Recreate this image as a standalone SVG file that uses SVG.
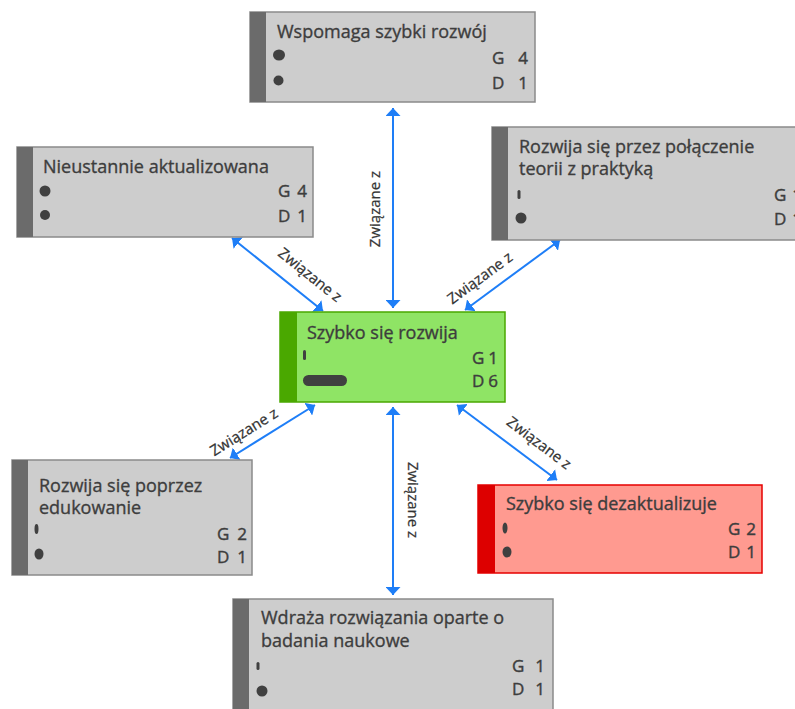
<svg xmlns="http://www.w3.org/2000/svg" width="795" height="709" viewBox="0 0 795 709">
  <style>
    .box { stroke-width: 1.5; }
    .gray .box { fill: #cdcdcd; stroke: #8a8a8a; }
    .gray .bar { fill: #6b6b6b; }
    .green .box { fill: #8fe465; stroke: #4aa800; }
    .green .bar { fill: #4aa800; }
    .red .box { fill: #ff9a90; stroke: #e60000; }
    .red .bar { fill: #dd0000; }
    .title { font-family: "Open Sans", "Noto Sans", sans-serif; font-size: 18px; fill: #3d3d3d; stroke: #3d3d3d; stroke-width: 0.35; }
    .val { font-family: "Open Sans", "Noto Sans", sans-serif; font-size: 17px; fill: #3d3d3d; stroke: #3d3d3d; stroke-width: 0.4; }
    .ind { fill: #404040; }
    .link { stroke: #1e7ef7; stroke-width: 2; fill: none; marker-start: url(#head); marker-end: url(#head); }
    .lbl { font-family: "Open Sans", "Noto Sans", sans-serif; font-size: 15px; fill: #333333; stroke: #333333; stroke-width: 0.25; text-anchor: middle; }
  </style>
  <defs>
    <marker id="head" markerUnits="userSpaceOnUse" viewBox="0 0 8 15" markerWidth="8" markerHeight="15" refX="8" refY="7.5" orient="auto-start-reverse">
      <path d="M0,0 L8,7.5 L0,15 z" fill="#1e7ef7"/>
    </marker>
  </defs>

  <rect width="795" height="709" fill="#ffffff"/>

  <!-- connectors -->
  <g id="connectors">
    <line class="link" x1="393" y1="108" x2="393" y2="308"/>
    <line class="link" x1="232" y1="238" x2="323" y2="311"/>
    <line class="link" x1="560" y1="240" x2="465" y2="310"/>
    <line class="link" x1="315" y1="405" x2="230" y2="458"/>
    <line class="link" x1="393" y1="407" x2="393" y2="595"/>
    <line class="link" x1="457" y1="405" x2="557" y2="480"/>
    <text class="lbl" transform="translate(374.5,209) rotate(-90)" dy="5">Związane z</text>
    <text class="lbl" transform="translate(310,275) rotate(38.7)" dy="5">Związane z</text>
    <text class="lbl" transform="translate(480,278) rotate(-36.4)" dy="5">Związane z</text>
    <text class="lbl" transform="translate(244,432) rotate(-32)" dy="5">Związane z</text>
    <text class="lbl" transform="translate(412.5,500) rotate(90)" dy="5">Związane z</text>
    <text class="lbl" transform="translate(539,443) rotate(37)" dy="5">Związane z</text>
  </g>

  <!-- top node -->
  <g id="node-wspomaga" class="gray">
    <rect class="box" x="250" y="12" width="285" height="90"/>
    <rect class="bar" x="250" y="12" width="16" height="90"/>
    <text class="title" x="277" y="38">Wspomaga szybki rozwój</text>
    <ellipse class="ind" cx="279" cy="55" rx="6" ry="5.5"/>
    <ellipse class="ind" cx="278.5" cy="80.5" rx="5" ry="5"/>
    <text class="val" x="492" y="64">G</text>
    <text class="val" x="528" y="64" text-anchor="end">4</text>
    <text class="val" x="492" y="89">D</text>
    <text class="val" x="528" y="89" text-anchor="end">1</text>
  </g>

  <g id="node-nieustannie" class="gray">
    <rect class="box" x="17" y="147" width="296" height="90"/>
    <rect class="bar" x="17" y="147" width="16" height="90"/>
    <text class="title" x="43" y="173">Nieustannie aktualizowana</text>
    <ellipse class="ind" cx="45" cy="191" rx="5.5" ry="5.5"/>
    <ellipse class="ind" cx="45" cy="215" rx="5" ry="5"/>
    <text class="val" x="278" y="197">G</text>
    <text class="val" x="307" y="197" text-anchor="end">4</text>
    <text class="val" x="278" y="222">D</text>
    <text class="val" x="307" y="222" text-anchor="end">1</text>
  </g>

  <g id="node-teoria" class="gray">
    <rect class="box" x="492" y="127" width="320" height="113"/>
    <rect class="bar" x="492" y="127" width="16" height="113"/>
    <text class="title" x="519" y="153">Rozwija się przez połączenie</text>
    <text class="title" x="519" y="175">teorii z praktyką</text>
    <rect class="ind" x="517.5" y="190" width="3" height="9" rx="1.5"/>
    <ellipse class="ind" cx="521" cy="218" rx="5.5" ry="5.5"/>
    <text class="val" x="774" y="201">G</text>
    <text class="val" x="802" y="201" text-anchor="end">1</text>
    <text class="val" x="774" y="225">D</text>
    <text class="val" x="802" y="225" text-anchor="end">1</text>
  </g>

  <!-- central node -->
  <g id="node-szybko" class="green">
    <rect class="box" x="280" y="312" width="225" height="90"/>
    <rect class="bar" x="280" y="312" width="17" height="90"/>
    <text class="title" x="307" y="339">Szybko się rozwija</text>
    <rect class="ind" x="303" y="350" width="3" height="10" rx="1.5"/>
    <rect class="ind" x="303" y="375" width="44" height="11" rx="5.5"/>
    <text class="val" x="472" y="364">G</text>
    <text class="val" x="498" y="364" text-anchor="end">1</text>
    <text class="val" x="472" y="387">D</text>
    <text class="val" x="498" y="387" text-anchor="end">6</text>
  </g>

  <g id="node-edukowanie" class="gray">
    <rect class="box" x="12" y="460" width="240" height="115"/>
    <rect class="bar" x="12" y="460" width="16" height="115"/>
    <text class="title" x="39" y="492">Rozwija się poprzez</text>
    <text class="title" x="39" y="514">edukowanie</text>
    <ellipse class="ind" cx="36.5" cy="529" rx="2" ry="5"/>
    <ellipse class="ind" cx="39" cy="554" rx="4.5" ry="5.5"/>
    <text class="val" x="217" y="540">G</text>
    <text class="val" x="247" y="540" text-anchor="end">2</text>
    <text class="val" x="217" y="563">D</text>
    <text class="val" x="247" y="563" text-anchor="end">1</text>
  </g>

  <g id="node-dezaktualizuje" class="red">
    <rect class="box" x="478" y="485" width="284" height="88"/>
    <rect class="bar" x="478" y="485" width="17" height="88"/>
    <text class="title" x="506" y="510">Szybko się dezaktualizuje</text>
    <ellipse class="ind" cx="505" cy="528" rx="2.5" ry="5.5"/>
    <ellipse class="ind" cx="507" cy="552" rx="4.5" ry="5.5"/>
    <text class="val" x="728" y="535">G</text>
    <text class="val" x="756" y="535" text-anchor="end">2</text>
    <text class="val" x="728" y="558">D</text>
    <text class="val" x="756" y="558" text-anchor="end">1</text>
  </g>

  <g id="node-wdraza" class="gray">
    <rect class="box" x="233" y="599" width="320" height="120"/>
    <rect class="bar" x="233" y="599" width="16" height="120"/>
    <text class="title" x="261" y="624">Wdraża rozwiązania oparte o</text>
    <text class="title" x="261" y="647">badania naukowe</text>
    <rect class="ind" x="256.5" y="662" width="3" height="8" rx="1.5"/>
    <ellipse class="ind" cx="262" cy="691" rx="5.5" ry="5.5"/>
    <text class="val" x="512" y="672">G</text>
    <text class="val" x="545" y="672" text-anchor="end">1</text>
    <text class="val" x="512" y="695">D</text>
    <text class="val" x="545" y="695" text-anchor="end">1</text>
  </g>
</svg>
